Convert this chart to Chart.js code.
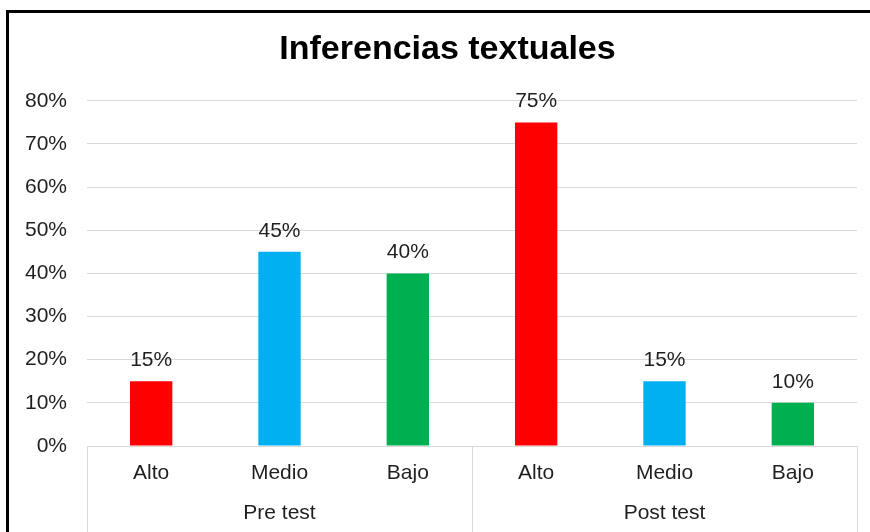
<!DOCTYPE html>
<html>
<head>
<meta charset="utf-8">
<script src="https://cdn.jsdelivr.net/npm/chart.js@4/dist/chart.umd.min.js"></script>
<style>
    html, body { margin: 0; padding: 0; background: #fff; overflow: hidden; }
    #frame {
        position: absolute;
        left: 6px;
        top: 10px;
        border-top: 3px solid #000;
        border-left: 3px solid #000;
    }
    #chart { display: block; }
</style>
</head>
<body>
<div id="frame">
    <canvas id="chart" width="877" height="519" style="width:877px;height:519px"></canvas>
</div>
<script>
const levels = ["Alto", "Medio", "Bajo"];
const groups = ["Pre test", "Post test"];
const values = [15, 45, 40, 75, 15, 10];
const levelColors = ["#ff0000", "#00b0f0", "#00b050"];
const yTicks = [0, 10, 20, 30, 40, 50, 60, 70, 80];

const fontFamily = "'Liberation Sans', Arial, sans-serif";
const textColor = "#1f1f1f";
const lineColor = "#d9d9d9";

// two-line labels: level on top, group name under the middle bar of each group
let labels = [];
let colors = [];
groups.forEach((group) => {
    levels.forEach((level, i) => {
        labels.push([level, i === 1 ? group : ""]);
        colors.push(levelColors[i]);
    });
});

const valueLabels = {
    id: "valueLabels",
    afterDatasetsDraw(chart) {
        const ctx = chart.ctx;
        const meta = chart.getDatasetMeta(0);
        ctx.save();
        ctx.font = `21px ${fontFamily}`;
        ctx.fillStyle = textColor;
        ctx.textAlign = "center";
        ctx.textBaseline = "alphabetic";
        meta.data.forEach((bar, i) => {
            ctx.fillText(values[i] + "%", bar.x, bar.y - 15);
        });
        ctx.restore();
    },
};

const groupSeparators = {
    id: "groupSeparators",
    afterDraw(chart) {
        const ctx = chart.ctx;
        const x = chart.scales.x;
        const half = (x.getPixelForValue(1) - x.getPixelForValue(0)) / 2;
        ctx.save();
        ctx.strokeStyle = lineColor;
        ctx.lineWidth = 1;
        for (let g = 0; g <= groups.length; g++) {
            const px = Math.round(x.getPixelForValue(g * levels.length) - half) + 0.5;
            ctx.beginPath();
            ctx.moveTo(px, x.top);
            ctx.lineTo(px, chart.height);
            ctx.stroke();
        }
        ctx.restore();
    },
};

new Chart(document.getElementById("chart").getContext("2d"), {
    type: "bar",
    data: {
        labels,
        datasets: [
            {
                data: values,
                backgroundColor: colors,
                borderWidth: 0,
                categoryPercentage: 1,
                barPercentage: 0.33,
            },
        ],
    },
    options: {
        responsive: false,
        animation: false,
        devicePixelRatio: 1,
        layout: { padding: 0 },
        plugins: {
            legend: { display: false },
            tooltip: { enabled: false },
            title: {
                display: true,
                text: "Inferencias textuales",
                color: "#000",
                font: { family: fontFamily, size: 34, weight: "bold" },
                padding: { top: 16, bottom: 31 },
            },
        },
        scales: {
            x: {
                grid: { display: false, drawTicks: false },
                border: { display: true, color: lineColor },
                ticks: {
                    color: textColor,
                    padding: 7,
                    maxRotation: 0,
                    autoSkip: false,
                    font: { family: fontFamily, size: 21, lineHeight: "40px" },
                },
                afterFit(scale) {
                    scale.height = 86;
                    // keep the plot clear of the right edge, title stays centred on the canvas
                    scale.paddingRight = 29;
                },
            },
            y: {
                min: 0,
                max: 80,
                grid: { color: lineColor, drawTicks: false },
                border: { display: false },
                afterBuildTicks(scale) {
                    scale.ticks = yTicks.map((v) => ({ value: v }));
                },
                ticks: {
                    color: textColor,
                    padding: 20,
                    font: { family: fontFamily, size: 21 },
                    callback: function(value) {
                        return value + "%";
                    },
                },
                afterFit(scale) {
                    scale.width = 78;
                },
            },
        },
    },
    plugins: [valueLabels, groupSeparators],
});
</script>
</body>
</html>
